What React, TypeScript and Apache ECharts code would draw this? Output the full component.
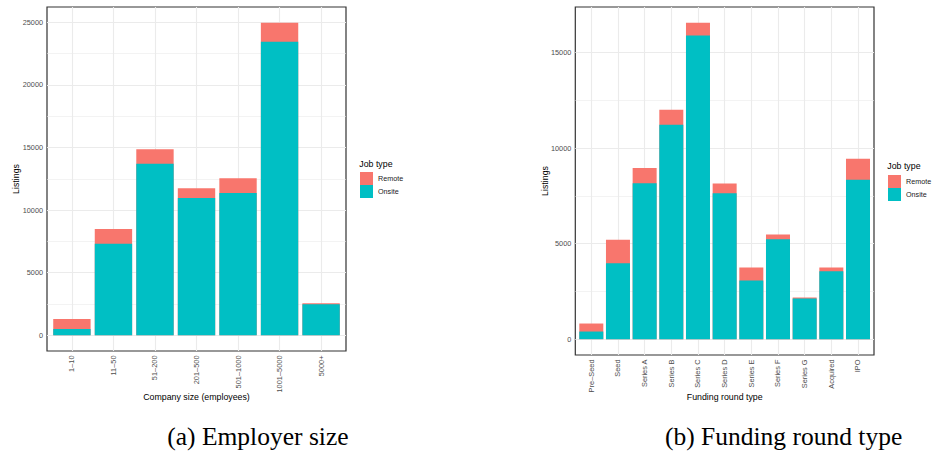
import React, { useEffect, useRef } from "react";
import * as echarts from "echarts";

// ---- Data: (a) Employer size ----
const sizeCategories = ["1–10", "11–50", "51–200", "201–500", "501–1000", "1001–5000", "5000+"];
const sizeOnsite = [500, 7320, 13700, 10970, 11370, 23450, 2480];
const sizeRemote = [800, 1180, 1170, 780, 1180, 1520, 80];
const sizeYTicks = [0, 5000, 10000, 15000, 20000, 25000];
const sizeYMinor = [2500, 7500, 12500, 17500, 22500];

// ---- Data: (b) Funding round type ----
const fundingCategories = ["Pre–Seed", "Seed", "Series A", "Series B", "Series C", "Series D", "Series E", "Series F", "Series G", "Acquired", "IPO"];
const fundingOnsite = [400, 3970, 8160, 11230, 15900, 7640, 3070, 5230, 2130, 3560, 8350];
const fundingRemote = [420, 1240, 800, 780, 660, 510, 680, 250, 50, 190, 1090];
const fundingYTicks = [0, 5000, 10000, 15000];
const fundingYMinor = [2500, 7500, 12500];

const legendNames = ["Remote", "Onsite"];
const REMOTE = "#F8766D";
const ONSITE = "#00BFC4";
const SANS = "'Liberation Sans', Arial, sans-serif";
const SERIF = "'Liberation Serif', 'Times New Roman', serif";
const GRID_COLOR = "#EBEBEB";

function buildPanel(
  idx: number,
  cats: string[],
  onsite: number[],
  remote: number[],
  yTicks: number[],
  yMinor: number[]
) {
  const totals = onsite.map((v, i) => v + remote[i]);
  const dataMax = Math.max(...totals);
  const idxs = cats.map((_, i) => i);

  const xAxis = {
    type: "value",
    gridIndex: idx,
    min: -0.6,
    max: cats.length - 0.4,
    axisLine: { show: false },
    splitLine: { show: false },
    axisTick: { show: true, customValues: idxs, length: 3, lineStyle: { color: "#333333", width: 1 } },
    axisLabel: {
      customValues: idxs,
      formatter: (v: number) => cats[Math.round(v)] ?? "",
      rotate: 90,
      margin: 4.5,
      fontSize: 7.4,
      color: "#4D4D4D",
      fontFamily: SANS,
    },
  };
  const yAxis = {
    type: "value",
    gridIndex: idx,
    min: -0.05 * dataMax,
    max: 1.05 * dataMax,
    axisLine: { show: false },
    splitLine: { show: false },
    axisTick: { show: true, customValues: yTicks, length: 3, lineStyle: { color: "#333333", width: 1 } },
    axisLabel: {
      customValues: yTicks,
      formatter: (v: number) => String(v),
      margin: 4,
      fontSize: 7.3,
      color: "#4D4D4D",
      fontFamily: SANS,
    },
  };

  const gridLines = [
    ...yMinor.map((v) => ({ yAxis: v, lineStyle: { color: GRID_COLOR, width: 0.6, type: "solid" } })),
    ...yTicks.map((v) => ({ yAxis: v, lineStyle: { color: GRID_COLOR, width: 1.1, type: "solid" } })),
    ...idxs.map((i) => ({ xAxis: i, lineStyle: { color: GRID_COLOR, width: 1.1, type: "solid" } })),
  ];

  const series = [
    {
      type: "line",
      name: "grid" + idx,
      xAxisIndex: idx,
      yAxisIndex: idx,
      data: [],
      silent: true,
      z: 1,
      markLine: {
        silent: true,
        z: 1,
        symbol: ["none", "none"],
        label: { show: false },
        emphasis: { disabled: true },
        animation: false,
        data: gridLines,
      },
    },
    {
      type: "bar",
      name: "Remote",
      xAxisIndex: idx,
      yAxisIndex: idx,
      barWidth: "90%",
      barGap: "-100%",
      z: 2,
      itemStyle: { color: REMOTE },
      data: totals.map((v, i) => [i, v]),
    },
    {
      type: "bar",
      name: "Onsite",
      xAxisIndex: idx,
      yAxisIndex: idx,
      barWidth: "90%",
      barGap: "-100%",
      z: 3,
      itemStyle: { color: ONSITE },
      data: onsite.map((v, i) => [i, v]),
    },
  ];
  return { xAxis, yAxis, series };
}

export default function App() {
  const ref = useRef<HTMLDivElement>(null);
  useEffect(() => {
    if (!ref.current) return;
    const chart = echarts.init(ref.current, undefined, { renderer: "svg" });
    const a = buildPanel(0, sizeCategories, sizeOnsite, sizeRemote, sizeYTicks, sizeYMinor);
    const b = buildPanel(1, fundingCategories, fundingOnsite, fundingRemote, fundingYTicks, fundingYMinor);

    const legendBase = {
      orient: "vertical",
      padding: 0,
      itemGap: 0,
      itemWidth: 13,
      itemHeight: 13,
      icon: "rect",
      selectedMode: false,
      data: legendNames,
      textStyle: { fontSize: 7.2, color: "#1A1A1A", fontFamily: SANS },
    };

    const titleText = (text: string, x: number, y: number, rotate = false, size = 8.8) => ({
      type: "text",
      x,
      y,
      rotation: rotate ? Math.PI / 2 : 0,
      silent: true,
      style: {
        text,
        fill: "#000000",
        fontSize: size,
        fontFamily: SANS,
        align: "center",
        verticalAlign: "middle",
      },
    });

    chart.setOption({
      animation: false,
      backgroundColor: "#ffffff",
      grid: [
        { left: 47, top: 7, width: 299, height: 344, show: true, borderColor: "#333333", borderWidth: 1.2, backgroundColor: "#ffffff" },
        { left: 575.3, top: 7, width: 298.7, height: 348, show: true, borderColor: "#333333", borderWidth: 1.2, backgroundColor: "#ffffff" },
      ],
      xAxis: [a.xAxis, b.xAxis],
      yAxis: [a.yAxis, b.yAxis],
      legend: [
        { ...legendBase, left: 360, top: 172 },
        { ...legendBase, left: 888, top: 175 },
      ],
      series: [...a.series, ...b.series],
      graphic: [
        titleText("Listings", 15.8, 179, true),
        titleText("Listings", 544.5, 181, true),
        titleText("Company size (employees)", 196.5, 397),
        titleText("Funding round type", 724.7, 397),
        {
          type: "text", x: 359.3, y: 164, silent: true,
          style: { text: "Job type", fill: "#000000", fontSize: 8.8, fontFamily: SANS, align: "left", verticalAlign: "middle" },
        },
        {
          type: "text", x: 887.3, y: 165.7, silent: true,
          style: { text: "Job type", fill: "#000000", fontSize: 8.8, fontFamily: SANS, align: "left", verticalAlign: "middle" },
        },
        {
          type: "text", x: 257.9, y: 436.5, silent: true,
          style: { text: "(a) Employer size", fill: "#000000", fontSize: 25.5, fontFamily: SERIF, align: "center", verticalAlign: "middle" },
        },
        {
          type: "text", x: 783.6, y: 436.5, silent: true,
          style: { text: "(b) Funding round type", fill: "#000000", fontSize: 25.5, fontFamily: SERIF, align: "center", verticalAlign: "middle" },
        },
      ],
    });
    return () => chart.dispose();
  }, []);
  return (
    <div
      ref={ref}
      style={{ position: "fixed", left: 0, top: 0, width: 932, height: 454, background: "#fff" }}
    />
  );
}
